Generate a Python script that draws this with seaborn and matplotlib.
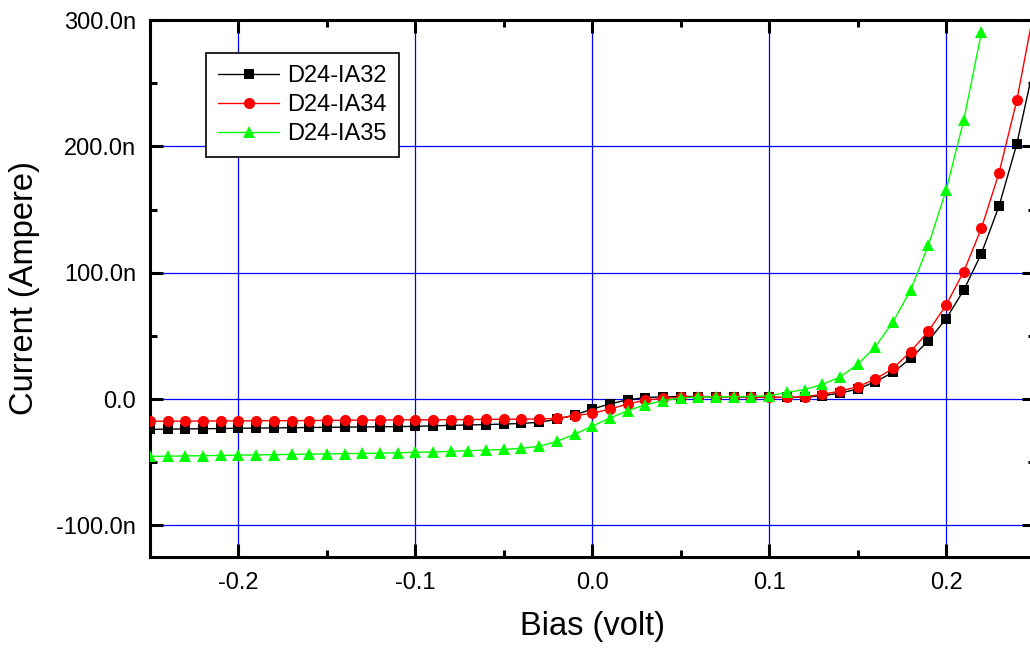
import matplotlib
matplotlib.use("Agg")
import matplotlib.pyplot as plt
from matplotlib.ticker import MultipleLocator, FuncFormatter
import numpy as np
import pandas as pd
import seaborn as sns

# Bias sweep (V) and measured currents (nA)
bias = [round(-0.25 + 0.01 * i, 2) for i in range(51)]

ia32 = [-24.0, -23.8, -23.6, -23.5, -23.3, -23.1, -23.0, -22.8, -22.7, -22.5,
        -22.4, -22.2, -22.1, -21.9, -21.8, -21.6, -21.2, -20.8, -20.5, -20.2,
        -19.8, -19.3, -18.4, -16.0, -12.6, -7.9, -3.8, -0.6, 1.2, 1.8,
        2.0, 2.0, 1.9, 1.8, 1.6, 1.4, 1.3, 1.5, 2.6, 4.7,
        7.9, 13.7, 21.1, 32.2, 46.1, 63.5, 86.2, 115.2, 153.0, 202.0,
        266.0]

ia34 = [-17.6, -17.5, -17.5, -17.4, -17.3, -17.3, -17.2, -17.1, -17.1, -17.0,
        -16.9, -16.8, -16.7, -16.6, -16.5, -16.4, -16.4, -16.3, -16.2, -16.1,
        -16.0, -15.9, -15.8, -15.3, -13.2, -11.3, -7.9, -4.0, -0.8, 0.5,
        1.3, 1.7, 1.8, 1.8, 1.7, 1.4, 1.3, 1.8, 3.7, 6.3,
        9.7, 15.8, 24.2, 37.6, 53.6, 74.3, 100.9, 135.2, 179.3, 236.4,
        310.0]

ia35 = [-45.4, -45.2, -45.0, -44.8, -44.6, -44.4, -44.2, -44.0, -43.8, -43.6,
        -43.4, -43.2, -43.0, -42.8, -42.5, -42.2, -41.9, -41.4, -40.9, -40.4,
        -39.9, -39.0, -37.4, -33.5, -27.9, -21.4, -15.0, -9.2, -4.5, -1.3,
        0.8, 1.6, 1.8, 1.9, 2.0, 2.6, 5.3, 7.4, 11.6, 17.4,
        27.4, 41.4, 61.1, 86.4, 121.7, 165.2, 220.6, 290.2]

series = [
    ("D24-IA32", ia32, "#000000", "s", 7.0),
    ("D24-IA34", ia34, "#ff0000", "o", 8.0),
    ("D24-IA35", ia35, "#00ff00", "^", 8.0),
]

sns.set_style("ticks")
plt.rcParams["font.family"] = ["Liberation Sans", "DejaVu Sans"]
plt.rcParams["text.color"] = "black"
plt.rcParams["axes.labelcolor"] = "black"
plt.rcParams["xtick.color"] = "black"
plt.rcParams["ytick.color"] = "black"

fig = plt.figure(figsize=(10.30, 6.51), dpi=100)
ax = fig.add_axes([150 / 1030, 1 - 557 / 651, 884.5 / 1030, 537 / 651])

for name, vals, color, marker, ms in series:
    df = pd.DataFrame({"Bias": bias[:len(vals)], "Current": vals})
    sns.lineplot(data=df, x="Bias", y="Current", ax=ax, color=color,
                 marker=marker, markersize=ms, markeredgewidth=0,
                 linewidth=1.0, label=name, zorder=3, clip_on=True)

ax.set_xlim(-0.25, 0.25)
ax.set_ylim(-125, 300)

ax.xaxis.set_major_locator(MultipleLocator(0.1))
ax.xaxis.set_minor_locator(MultipleLocator(0.05))
ax.yaxis.set_major_locator(MultipleLocator(100))
ax.yaxis.set_minor_locator(MultipleLocator(50))


def fmt_x(v, pos):
    return f"{v:.1f}" if abs(v) > 1e-9 else "0.0"


def fmt_y(v, pos):
    return f"{v:.1f}n" if abs(v) > 1e-9 else "0.0"


ax.xaxis.set_major_formatter(FuncFormatter(fmt_x))
ax.yaxis.set_major_formatter(FuncFormatter(fmt_y))

ax.grid(True, which="major", color="#0000ff", linewidth=0.9, zorder=1)
ax.set_axisbelow(True)

for sp in ax.spines.values():
    sp.set_linewidth(2.2)
    sp.set_color("black")
    sp.set_visible(True)

ax.tick_params(which="both", direction="in", top=True, right=True,
               width=2.2, color="black", labelcolor="black", labelsize=17)
ax.tick_params(which="major", length=9.5)
ax.tick_params(which="minor", length=5)
ax.tick_params(axis="y", which="major", pad=10)
ax.tick_params(axis="x", which="major", pad=11)

ax.set_xlabel("Bias (volt)", fontsize=23.5, labelpad=12, color="black")
ax.set_ylabel("Current (Ampere)", fontsize=23.5, labelpad=12, color="black")

leg = ax.legend(loc="upper left", bbox_to_anchor=(56 / 884.5, 1 - 33 / 537),
                fontsize=17, frameon=True, fancybox=False, shadow=False,
                borderpad=0.5, labelspacing=0.3, handlelength=2.6,
                handletextpad=0.35, borderaxespad=0)
leg.get_frame().set_edgecolor("black")
leg.get_frame().set_linewidth(1.2)
leg.get_frame().set_alpha(1)
for t in leg.get_texts():
    t.set_color("black")

fig.savefig("out.png", dpi=100)
